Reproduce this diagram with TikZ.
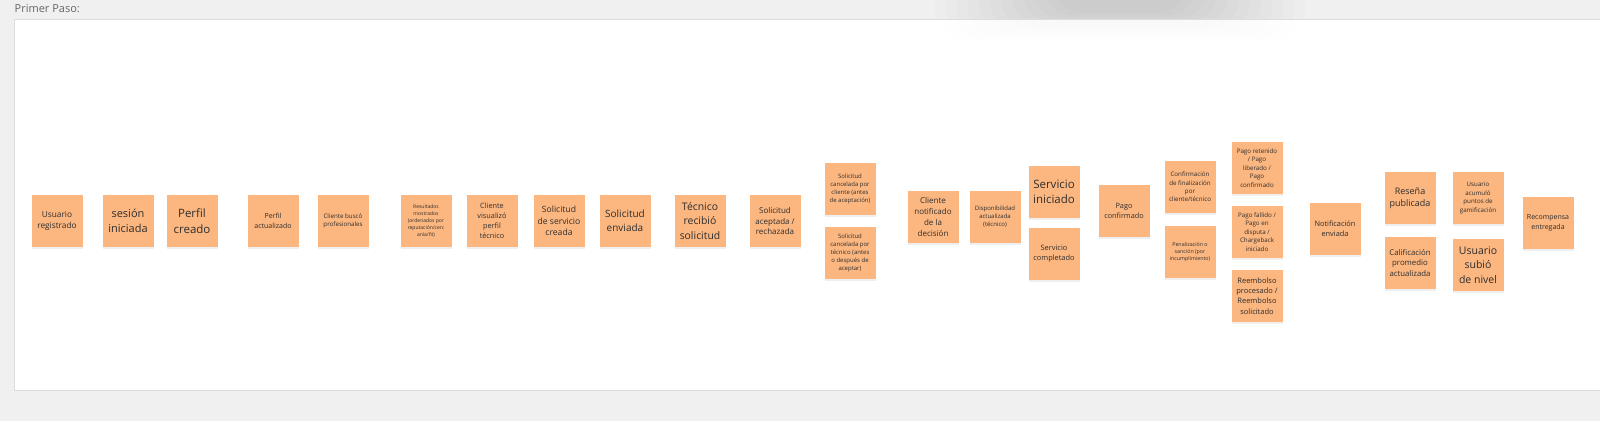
\documentclass[tikz,border=0pt]{standalone}
\usepackage{fontspec}
\setmainfont{Open Sans}
\usetikzlibrary{shadows}
\definecolor{bg}{HTML}{F0F0F0}
\definecolor{stick}{RGB}{252,182,127}
\definecolor{ink}{HTML}{2E2E2E}
\definecolor{panelline}{HTML}{DCDCDC}
\definecolor{labelgrey}{HTML}{666666}
\newcommand\nfs[1]{\fontsize{#1}{\fpeval{#1*1.36}}\selectfont}
\begin{document}
\begin{tikzpicture}[x=1pt,y=-1pt,
  note/.style={fill=stick, minimum width=51pt, minimum height=52pt, inner sep=0pt,
    align=center, text=ink, font=\nfs{#1},
    drop shadow={shadow xshift=0pt,shadow yshift=-1.6pt,opacity=0.12}},
  caption/.style={anchor=base west, inner sep=0pt, text=labelgrey, font=\nfs{11}}
]
\useasboundingbox (0,0) rectangle (1600,421);
\fill[bg] (0,0) rectangle (1600,421);
% panel
\fill[white, draw=panelline, line width=0.8pt] (14.5,19.5) rectangle (1612,390.5);
% soft shadow of an element above the panel
\begin{scope}
  \clip (0,-5) rectangle (1600,19.5);
  \foreach \i in {0,...,11}{
    \fill[black, opacity=0.012, rounded corners=25pt]
      (935+\i*11,-40) rectangle (1305-\i*11,40-\i*2.5);
  }
\end{scope}
\begin{scope}
  \clip (14.5,19.5) rectangle (1600,60);
  \foreach \i in {0,...,5}{
    \fill[black, opacity=0.005, rounded corners=20pt]
      (945+\i*14,-40) rectangle (1295-\i*14,42-\i*3.5);
  }
\end{scope}
\draw[panelline, line width=0.8pt] (14.5,19.5) -- (1612,19.5);

\node[caption] (title) at (14.5,12.5) {Primer Paso:};

% sticky notes
\node[note=8.3] (n1) at (57,221) {Usuario\\registrado};
\node[note=11] (n2) at (128,221) {sesión\\iniciada};
\node[note=11.5] (n3) at (192,221) {Perfil\\creado};
\node[note=7] (n4) at (273,221) {Perfil\\actualizado};
\node[note=6.2] (n5) at (343,221) {Cliente buscó\\profesionales};
\node[note=5] (n6) at (426,221) {Resultados\\mostrados\\(ordenados por\\reputación/cerc\\anía/fit)};
\node[note=7.3] (n7) at (492,221) {Cliente\\visualizó\\perfil\\técnico};
\node[note=8.6] (n8) at (559,221) {Solicitud\\de servicio\\creada};
\node[note=10] (n9) at (625,221) {Solicitud\\enviada};
\node[note=10.4] (n10) at (700,221) {Técnico\\recibió\\solicitud};
\node[note=8] (n11) at (775,221) {Solicitud\\aceptada /\\rechazada};
\node[note=6] (n12) at (850,189) {Solicitud\\cancelada por\\cliente (antes\\de aceptación)};
\node[note=6] (n13) at (850,253) {Solicitud\\cancelada por\\técnico (antes\\o después de\\aceptar)};
\node[note=8] (n14) at (933,217) {Cliente\\notificado\\de la\\decisión};
\node[note=6] (n15) at (995,217) {Disponibilidad\\actualizada\\(técnico)};
\node[note=11.5] (n16) at (1054,192) {Servicio\\iniciado};
\node[note=7.4] (n17) at (1054,254) {Servicio\\completado};
\node[note=7.3] (n18) at (1124,211) {Pago\\confirmado};
\node[note=6.2] (n19) at (1190,187) {Confirmación\\de finalización\\por\\cliente/técnico};
\node[note=5.3] (n20) at (1190,252) {Penalización o\\sanción (por\\incumplimiento)};
\node[note=6.2] (n21) at (1257,168) {Pago retenido\\/ Pago\\liberado /\\Pago\\confirmado};
\node[note=6.2] (n22) at (1257,232) {Pago fallido /\\Pago en\\disputa /\\Chargeback\\iniciado};
\node[note=7.5] (n23) at (1257,296) {Reembolso\\procesado /\\Reembolso\\solicitado};
\node[note=7.4] (n24) at (1335,229) {Notificación\\enviada};
\node[note=9] (n25) at (1410,198) {Reseña\\publicada};
\node[note=7.8] (n26) at (1410,263) {Calificación\\promedio\\actualizada};
\node[note=6.2] (n27) at (1478,198) {Usuario\\acumuló\\puntos de\\gamificación};
\node[note=10.5] (n28) at (1478,265) {Usuario\\subió\\de nivel};
\node[note=7] (n29) at (1548,223) {Recompensa\\entregada};
\end{tikzpicture}
\end{document}
